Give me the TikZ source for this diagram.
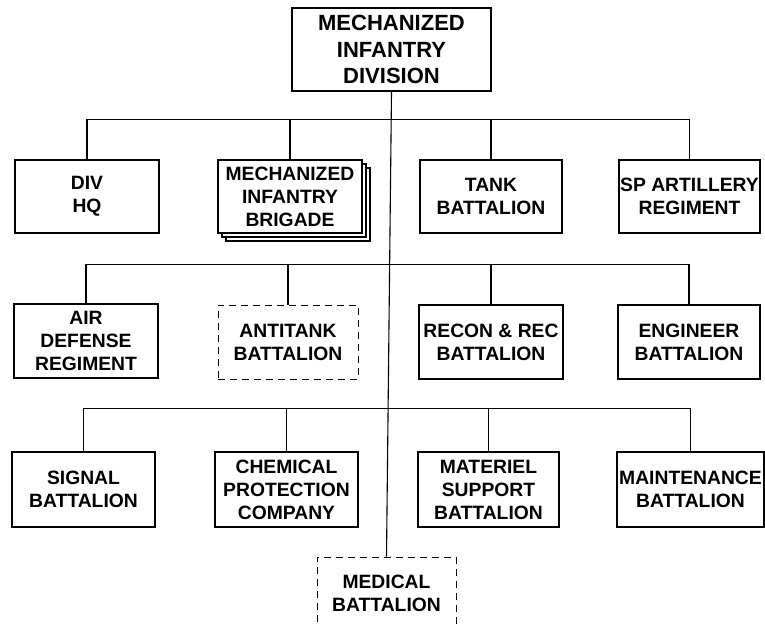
\documentclass[tikz,border=0pt]{standalone}
\usepackage{fontspec}
\setmainfont{Liberation Sans}
\usetikzlibrary{shadows}

\begin{document}
\begin{tikzpicture}[x=1pt, y=-1pt,
% common options for the unit boxes:
unit/.style = {draw, line width=1.2pt, fill=white, align=center, inner sep=0,
            minimum height=74pt, font=\fontsize{19.3}{23}\selectfont\bfseries},
% units drawn with a dashed frame:
optional/.style = {unit, line width=0.9pt, dash pattern=on 7pt off 5pt},
% common options for the connectors:
link/.style = {line width=1.1pt}]
\useasboundingbox (0,0) rectangle (765,626);
\node[unit, minimum width=199pt, minimum height=83pt,
      font=\fontsize{22}{26.5}\selectfont\bfseries] (div) at (391.5,49.5) {MECHANIZED\\INFANTRY\\DIVISION};
% first row
\node[unit, minimum width=144pt, minimum height=73pt] (hq) at (87,196.5) {DIV\\HQ};
\node[unit, minimum width=144pt, minimum height=73pt,
      double copy shadow={shadow xshift=4pt, shadow yshift=-4pt}] (brig) at (290,196.5) {MECHANIZED\\INFANTRY\\BRIGADE};
\node[unit, minimum width=142pt, minimum height=73pt] (tank) at (491,196.5) {TANK\\BATTALION};
\node[unit, minimum width=141pt, minimum height=73pt] (art) at (689.5,196.5) {SP ARTILLERY\\REGIMENT};
% second row
\node[unit, minimum width=144pt] (air) at (86,341) {AIR\\DEFENSE\\REGIMENT};
\node[optional, minimum width=140pt] (atk) at (288,342) {ANTITANK\\BATTALION};
\node[unit, minimum width=144pt] (rec) at (491,342) {RECON \& REC\\BATTALION};
\node[unit, minimum width=142pt] (eng) at (689,342) {ENGINEER\\BATTALION};
% third row
\node[unit, minimum width=143pt, minimum height=75pt] (sig) at (83.5,489.5) {SIGNAL\\BATTALION};
\node[unit, minimum width=143pt, minimum height=75pt] (chem) at (286.5,489.5) {CHEMICAL\\PROTECTION\\COMPANY};
\node[unit, minimum width=141pt, minimum height=75pt] (mat) at (488.5,489.5) {MATERIEL\\SUPPORT\\BATTALION};
\node[unit, minimum width=147pt, minimum height=75pt] (maint) at (690.5,489.5) {MAINTENANCE\\BATTALION};
\node[optional, minimum width=139pt, minimum height=72pt] (med) at (386.5,593) {MEDICAL\\BATTALION};
% bus lines
\path (div.south) ++(0,28) coordinate (b1) ++(0,145) coordinate (b2) ++(0,144) coordinate (b3);
\draw[link] (div.south) -- (med.north);
\draw[link] (hq.north) |- (b1) -| (art.north);
\draw[link] (brig.north) -- (brig.north |- b1);
\draw[link] (tank.north) -- (tank.north |- b1);
\draw[link] (air.north) |- (b2) -| (eng.north);
\draw[link] (atk.north) -- (atk.north |- b2);
\draw[link] (rec.north) -- (rec.north |- b2);
\draw[link] (sig.north) |- (b3) -| (maint.north);
\draw[link] (chem.north) -- (chem.north |- b3);
\draw[link] (mat.north) -- (mat.north |- b3);
\end{tikzpicture}
\end{document}
